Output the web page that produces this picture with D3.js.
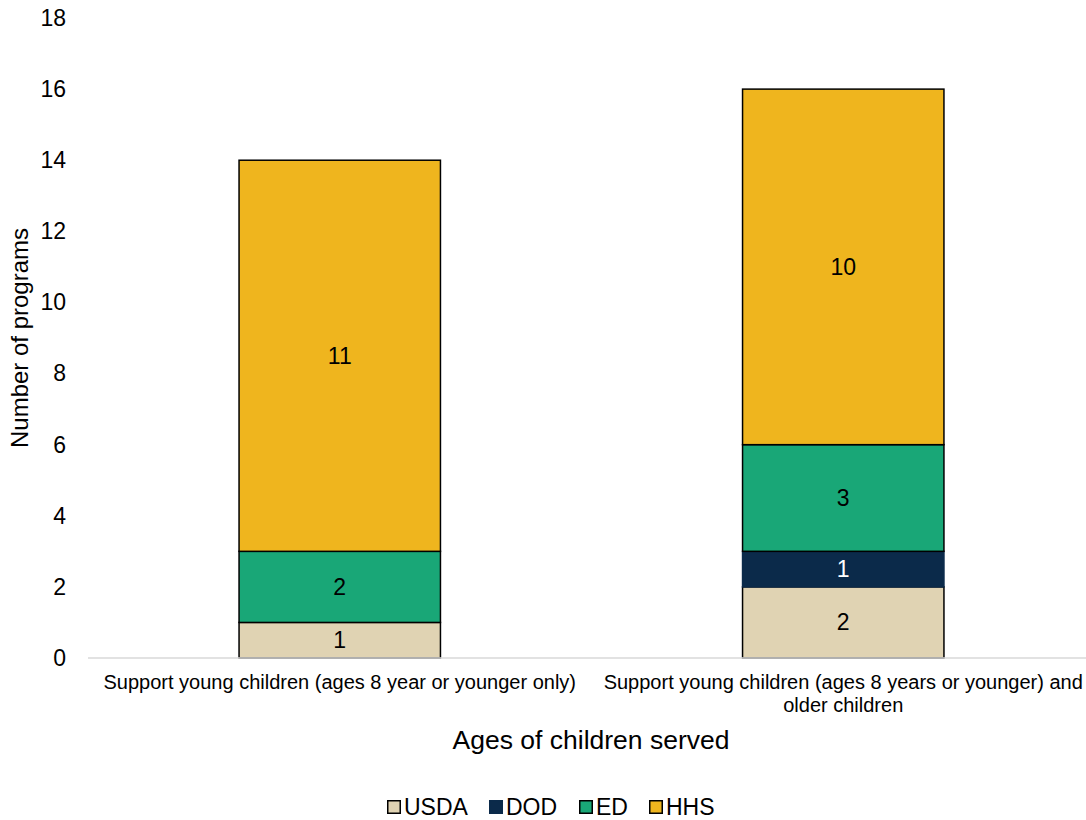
<!DOCTYPE html>
<html lang="en">
<head>
<meta charset="UTF-8">
<script src="https://cdn.jsdelivr.net/npm/d3@7"></script>
<style>
	body { margin: 0; background: #fff; font-family: Arial, "Liberation Sans", sans-serif; }
</style>
</head>
<body>
<svg id="chart" width="1086" height="820"></svg>
<script>
	// data
	const categories = [
		['Support young children (ages 8 year or younger only)'],
		['Support young children (ages 8 years or younger) and', 'older children']
	];
	const agencies = ['USDA', 'DOD', 'ED', 'HHS'];
	const usda = [1, 2];
	const dod = [0, 1];
	const ed = [2, 3];
	const hhs = [11, 10];
	const yTicks = [0, 2, 4, 6, 8, 10, 12, 14, 16, 18];

	const colors = { USDA: '#e0d3b3', DOD: '#0b2a4a', ED: '#19a777', HHS: '#efb51e' };
	const width = 1086, height = 820;
	const margin = { top: 18, right: 0, bottom: 162, left: 88 };

	const svg = d3.select('#chart');

	const rows = categories.map((c, i) => ({ key: i, USDA: usda[i], DOD: dod[i], ED: ed[i], HHS: hhs[i] }));
	const stacked = d3.stack().keys(agencies)(rows);

	const x = d3.scaleBand()
		.domain(rows.map(d => d.key))
		.range([margin.left, 1095])
		.paddingInner(0.6)
		.paddingOuter(0.3);
	const y = d3.scaleLinear()
		.domain([0, 18])
		.range([height - margin.bottom, margin.top]);

	// y axis tick labels (no line)
	const yAxis = svg.append('g')
		.attr('transform', `translate(66,0)`)
		.call(d3.axisLeft(y).tickValues(yTicks).tickSize(0).tickPadding(0));
	yAxis.select('.domain').remove();
	yAxis.selectAll('text')
		.attr('font-family', 'Arial, "Liberation Sans", sans-serif')
		.attr('font-size', 23)
		.attr('fill', '#000');

	// bars
	const layer = svg.append('g').selectAll('g')
		.data(stacked)
		.join('g')
		.attr('fill', d => colors[d.key]);

	layer.selectAll('rect')
		.data(d => d.filter(s => s[1] - s[0] > 0).map(s => ({ s, key: d.key })))
		.join('rect')
		.attr('x', d => x(d.s.data.key))
		.attr('width', x.bandwidth())
		.attr('y', d => y(d.s[1]))
		.attr('height', d => y(d.s[0]) - y(d.s[1]))
		.attr('stroke', d => d.key === 'DOD' ? '#0b2a4a' : '#000')
		.attr('stroke-width', 1.5);

	layer.selectAll('text')
		.data(d => d.filter(s => s[1] - s[0] > 0).map(s => ({ s, key: d.key })))
		.join('text')
		.attr('x', d => x(d.s.data.key) + x.bandwidth() / 2)
		.attr('y', d => (y(d.s[0]) + y(d.s[1])) / 2)
		.attr('dy', '0.35em')
		.attr('text-anchor', 'middle')
		.attr('font-size', 23)
		.attr('fill', d => d.key === 'DOD' ? '#fff' : '#000')
		.text(d => d.s[1] - d.s[0]);

	// x axis baseline
	svg.append('line')
		.attr('x1', margin.left).attr('x2', width)
		.attr('y1', y(0)).attr('y2', y(0))
		.attr('stroke', '#d9d9d9')
		.attr('stroke-width', 1.5);

	// category labels
	svg.append('g').selectAll('text')
		.data(rows)
		.join('text')
		.attr('x', d => x(d.key) + x.bandwidth() / 2)
		.attr('y', 689)
		.attr('text-anchor', 'middle')
		.attr('font-size', 20)
		.each(function (d) {
			d3.select(this).selectAll('tspan')
				.data(categories[d.key])
				.join('tspan')
				.attr('x', x(d.key) + x.bandwidth() / 2)
				.attr('dy', (t, i) => i === 0 ? 0 : 23)
				.text(t => t);
		});

	// axis titles
	svg.append('text')
		.attr('transform', `translate(28,${(y(0) + y(18)) / 2}) rotate(-90)`)
		.attr('text-anchor', 'middle')
		.attr('font-size', 24)
		.text('Number of programs');

	svg.append('text')
		.attr('x', 591)
		.attr('y', 749)
		.attr('text-anchor', 'middle')
		.attr('font-size', 26.5)
		.text('Ages of children served');

	// legend
	const legendX = [387, 489, 579, 649];
	const legend = svg.append('g').selectAll('g')
		.data(agencies)
		.join('g')
		.attr('transform', (d, i) => `translate(${legendX[i]},807)`);
	legend.append('rect')
		.attr('x', 0.75).attr('y', -6.25)
		.attr('width', 12.5).attr('height', 12.5)
		.attr('fill', d => colors[d])
		.attr('stroke', d => d === 'DOD' ? colors[d] : '#000')
		.attr('stroke-width', 1.5);
	legend.append('text')
		.attr('x', 17)
		.attr('y', 8)
		.attr('font-size', 23)
		.text(d => d);
</script>
</body>
</html>
